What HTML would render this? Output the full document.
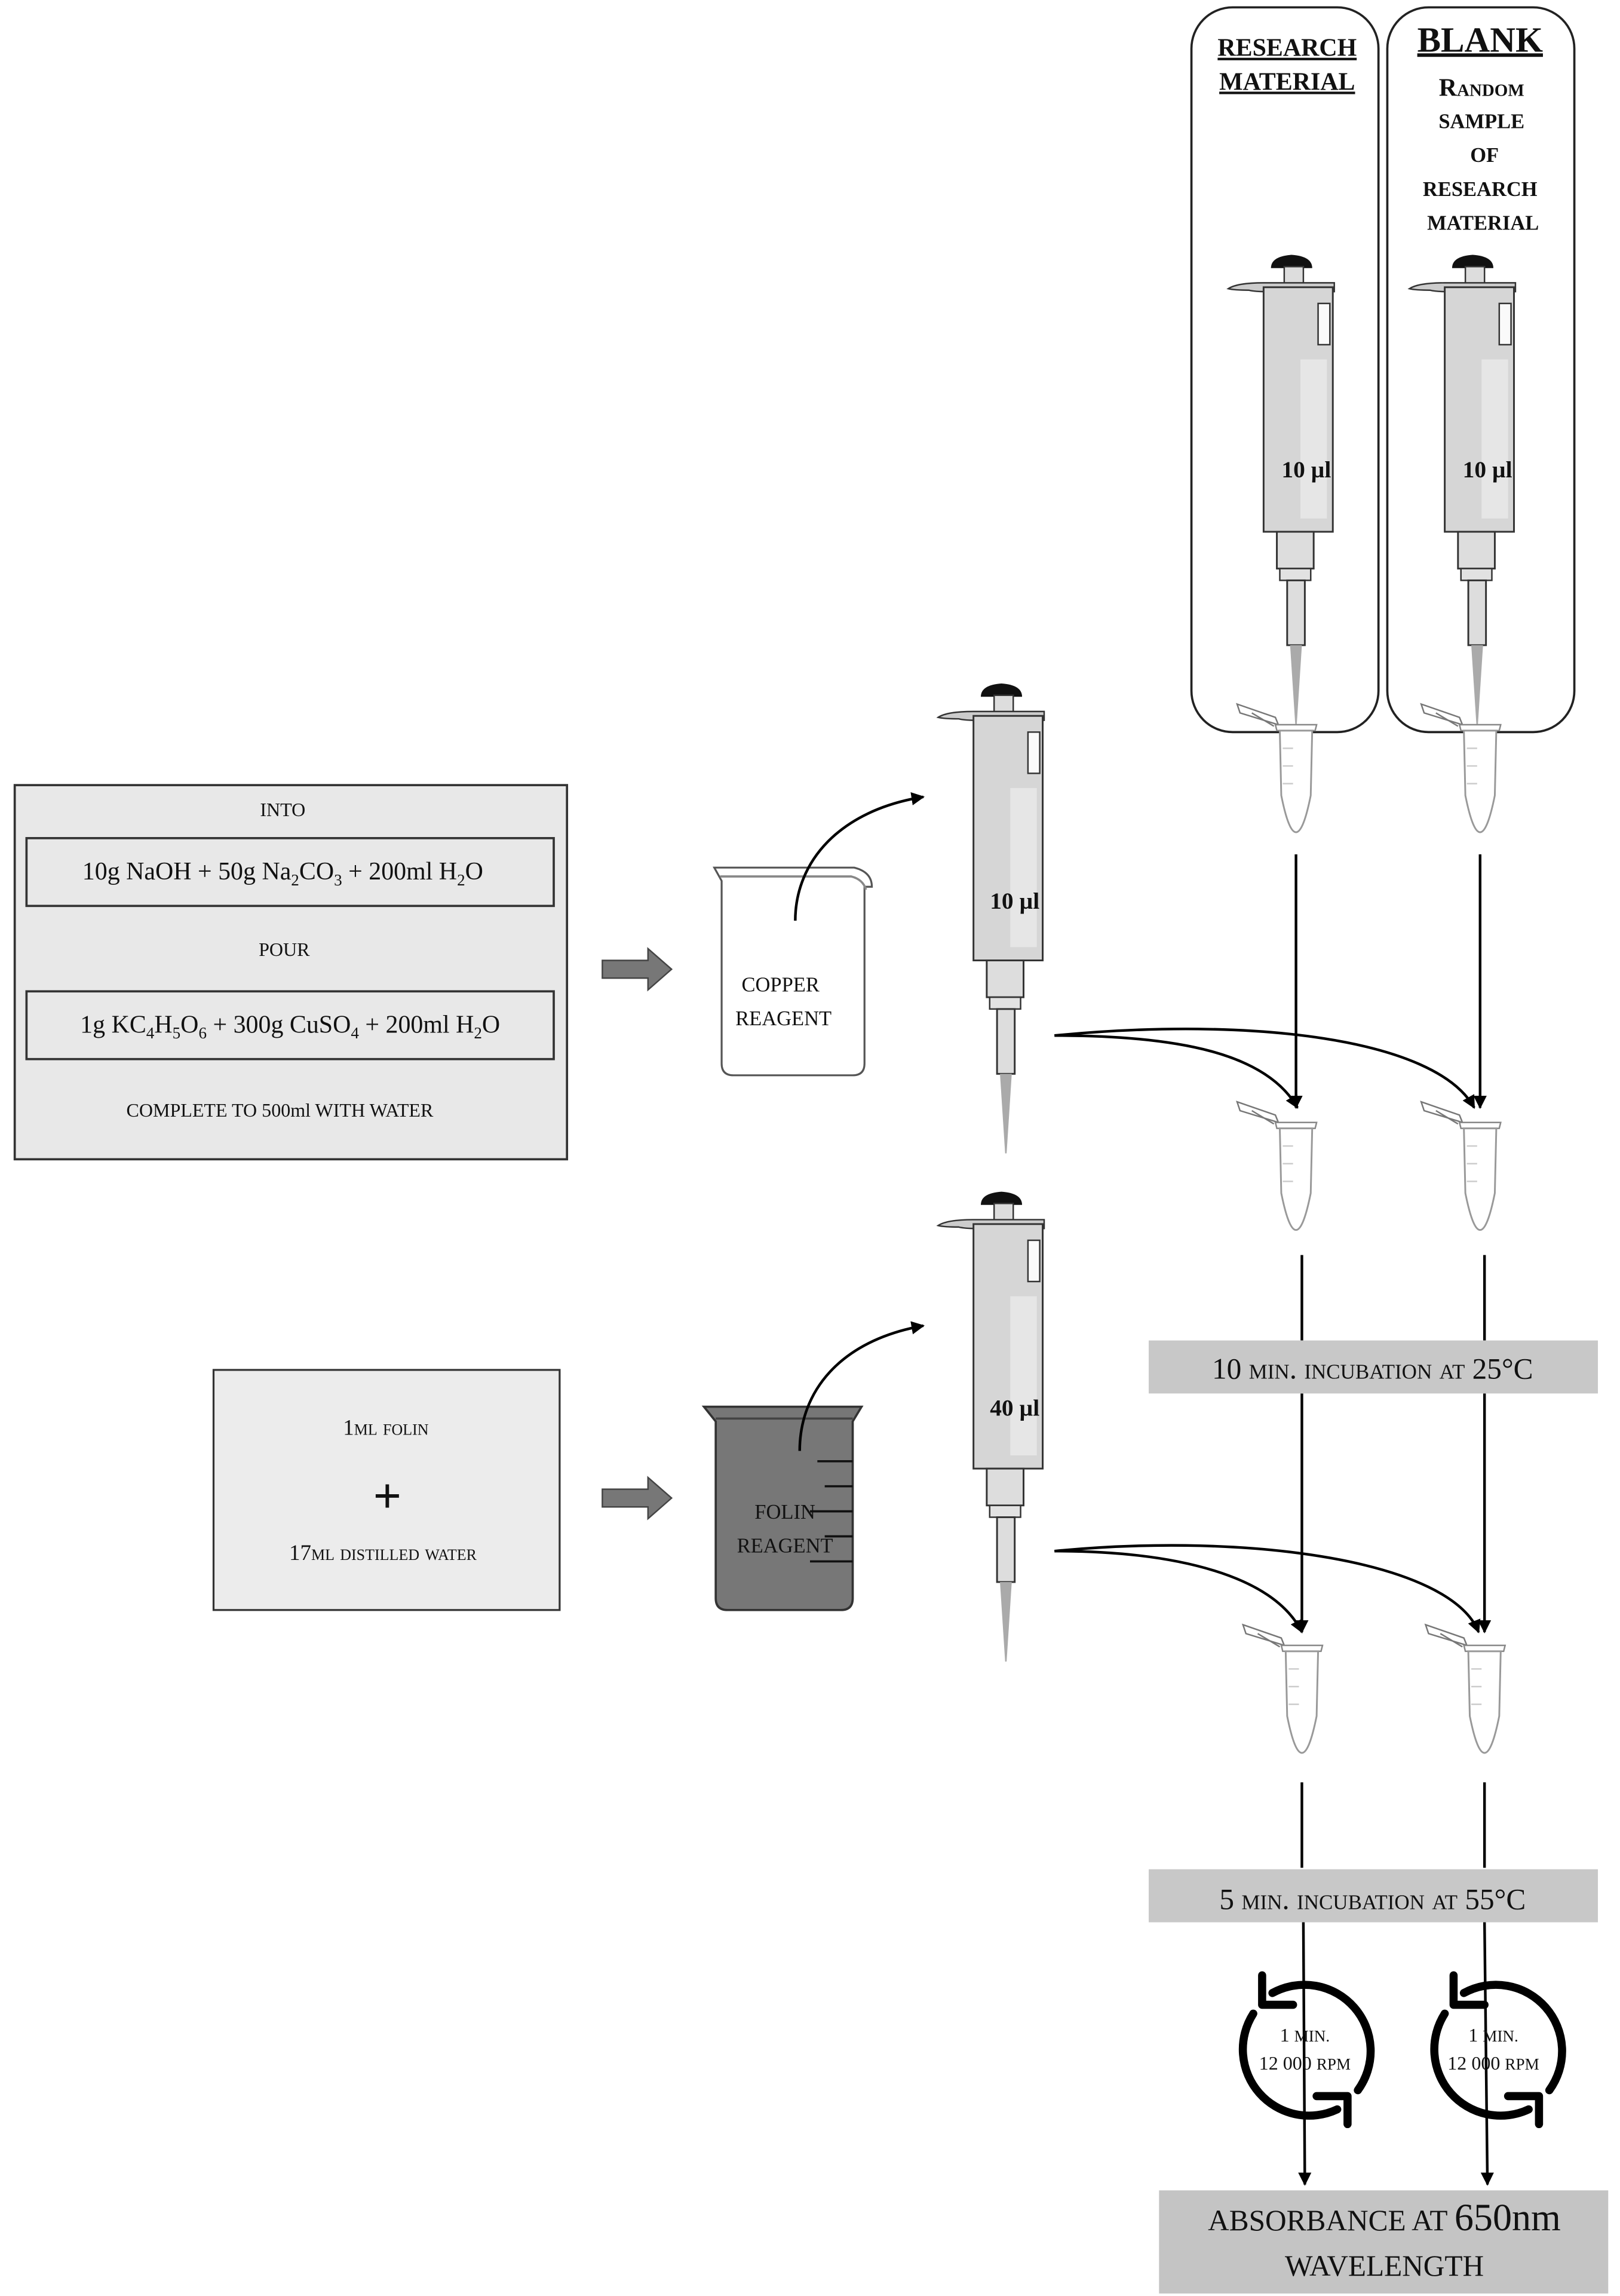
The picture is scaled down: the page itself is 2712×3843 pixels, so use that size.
<!DOCTYPE html>
<html><head><meta charset="utf-8"><style>
html,body{margin:0;padding:0;background:#fff}
svg{display:block}
text{font-family:"Liberation Serif",serif;fill:#111}
.sc{font-variant:small-caps}
</style></head><body>
<svg width="2712" height="3843" viewBox="0 0 1100 1558.7" preserveAspectRatio="none" xmlns="http://www.w3.org/2000/svg">
<defs>
<marker id="ah" viewBox="0 0 10 10" refX="9" refY="5" markerWidth="5" markerHeight="5" orient="auto"><path d="M0,0 L10,5 L0,10 Z" fill="#000"/></marker>
<g id="pip">
  <path d="M-17,10 Q-17,2 -3,1 Q11,2 11,10 Z" fill="#111"/>
  <rect x="-8" y="9" width="13" height="12" fill="#ddd" stroke="#333" stroke-width="1"/>
  <path d="M-46,24 Q-40,20 -22,20 L26,20 L26,26 L-20,26 Q-28,26 -32,25 Q-42,25 -46,24 Z" fill="#ccc" stroke="#333" stroke-width="1"/>
  <rect x="-22" y="23" width="47" height="166" fill="#d6d6d6" stroke="#333" stroke-width="1.2"/>
  <rect x="15" y="34" width="8" height="28" fill="#fafafa" stroke="#333" stroke-width="1"/>
  <rect x="3" y="72" width="18" height="108" fill="#e6e6e6"/>
  <rect x="-13" y="189" width="25" height="25" fill="#ddd" stroke="#333" stroke-width="1.2"/>
  <rect x="-11" y="214" width="21" height="8" fill="#e2e2e2" stroke="#333" stroke-width="1"/>
  <rect x="-6" y="222" width="12" height="44" fill="#ddd" stroke="#333" stroke-width="1.2"/>
  <path d="M-4,266 L4,266 L0.5,320 L-0.5,320 Z" fill="#aaa"/>
</g>
<g id="tube">
  <path d="M-40,-12 L-14,-3 L-12,2 L-38,-6 Z" fill="#fff" stroke="#777" stroke-width="1"/>
  <path d="M-30,-6 L-15,3" stroke="#777" fill="none"/>
  <path d="M-14,2 L14,2 L13,6 L-13,6 Z" fill="#fff" stroke="#888" stroke-width="1"/>
  <path d="M-11,6 L11,6 L10,50 Q0,100 -10,50 Z" fill="#fff" stroke="#999" stroke-width="1.2"/>
  <path d="M-9,18 L-2,18 M-9,30 L-2,30 M-9,42 L-2,42" stroke="#ccc"/>
</g>
<g id="spin" fill="none" stroke="#000" stroke-width="5.5" stroke-linecap="round" stroke-linejoin="round">
  <path d="M36,27 A45 45 0 0 0 -22,-39"/>
  <polyline points="-8,-31 -29,-31 -29,-51"/>
  <path d="M-35,-25 A45 45 0 0 0 22,40"/>
  <polyline points="8,31 29,31 29,50"/>
</g>
</defs>

<!-- top rounded boxes -->
<rect x="809" y="5" width="127" height="492" rx="28" fill="none" stroke="#222" stroke-width="1.5"/>
<rect x="942" y="5" width="127" height="492" rx="28" fill="none" stroke="#222" stroke-width="1.5"/>
<text x="874" y="38" font-size="17" font-weight="bold" text-anchor="middle" text-decoration="underline">RESEARCH</text>
<text x="874" y="61" font-size="17" font-weight="bold" text-anchor="middle" text-decoration="underline">MATERIAL</text>
<text x="1005" y="35" font-size="24" font-weight="bold" text-anchor="middle" text-decoration="underline">BLANK</text>
<text class="sc" x="1006" y="65" font-size="17" font-weight="bold" text-anchor="middle">Random</text>
<text x="1006" y="87" font-size="14" font-weight="bold" text-anchor="middle">SAMPLE</text>
<text x="1008" y="110" font-size="14" font-weight="bold" text-anchor="middle">OF</text>
<text x="1005" y="133" font-size="14" font-weight="bold" text-anchor="middle">RESEARCH</text>
<text x="1007" y="156" font-size="14" font-weight="bold" text-anchor="middle">MATERIAL</text>

<use href="#pip" transform="translate(880,172)"/>
<use href="#pip" transform="translate(1003,172)"/>
<text x="887" y="324" font-size="16" font-weight="bold" text-anchor="middle">10 µl</text>
<text x="1010" y="324" font-size="16" font-weight="bold" text-anchor="middle">10 µl</text>

<use href="#tube" transform="translate(880,490)"/>
<use href="#tube" transform="translate(1005,490)"/>

<!-- left box 1 -->
<rect x="10" y="533" width="375" height="254" fill="#e8e8e8" stroke="#333" stroke-width="1.5"/>
<rect x="18" y="569" width="358" height="46" fill="#e8e8e8" stroke="#333" stroke-width="1.5"/>
<rect x="18" y="673" width="358" height="46" fill="#e8e8e8" stroke="#333" stroke-width="1.5"/>
<text x="192" y="554" font-size="13" text-anchor="middle">INTO</text>
<text x="192" y="597" font-size="17" text-anchor="middle">10g NaOH + 50g Na<tspan font-size="11" dy="4">2</tspan><tspan dy="-4">CO</tspan><tspan font-size="11" dy="4">3</tspan><tspan dy="-4"> + 200ml H</tspan><tspan font-size="11" dy="4">2</tspan><tspan dy="-4">O</tspan></text>
<text x="193" y="649" font-size="13" text-anchor="middle">POUR</text>
<text x="197" y="701" font-size="17" text-anchor="middle">1g KC<tspan font-size="11" dy="4">4</tspan><tspan dy="-4">H</tspan><tspan font-size="11" dy="4">5</tspan><tspan dy="-4">O</tspan><tspan font-size="11" dy="4">6</tspan><tspan dy="-4"> + 300g CuSO</tspan><tspan font-size="11" dy="4">4</tspan><tspan dy="-4"> + 200ml H</tspan><tspan font-size="11" dy="4">2</tspan><tspan dy="-4">O</tspan></text>
<text x="190" y="758" font-size="13" text-anchor="middle">COMPLETE TO 500ml WITH WATER</text>

<!-- block arrows -->
<path d="M409,652 L440,652 L440,644 L456,658 L440,672 L440,664 L409,664 Z" fill="#777" stroke="#444" stroke-width="1"/>
<path d="M409,1011 L440,1011 L440,1003 L456,1017 L440,1031 L440,1023 L409,1023 Z" fill="#777" stroke="#444" stroke-width="1"/>

<!-- copper beaker -->
<path d="M485,589 L580,589 Q592,592 592,602 L587,602 L587,722 Q587,730 579,730 L498,730 Q490,730 490,722 L490,598 Z" fill="#fff" stroke="#555" stroke-width="1.3"/>
<path d="M489,595 L578,595 Q586,597 588,604" fill="none" stroke="#888" stroke-width="1.5"/>
<text x="530" y="673" font-size="14" text-anchor="middle">COPPER</text>
<text x="532" y="696" font-size="14" text-anchor="middle">REAGENT</text>
<path d="M540,625 C540,585 570,550 627,541" fill="none" stroke="#000" stroke-width="1.8" marker-end="url(#ah)"/>

<!-- pipette 1 -->
<use href="#pip" transform="translate(683,463)"/>
<text x="689" y="617" font-size="16" font-weight="bold" text-anchor="middle">10 µl</text>

<!-- folin box -->
<rect x="145" y="930" width="235" height="163" fill="#ececec" stroke="#333" stroke-width="1.3"/>
<text x="262" y="974" font-size="15" text-anchor="middle" class="sc">1ml folin</text>
<text x="263" y="1027" font-size="34" font-weight="bold" text-anchor="middle">+</text>
<text x="260" y="1059" font-size="15" text-anchor="middle" class="sc">17ml distilled water</text>

<!-- folin beaker -->
<path d="M478,955 L585,955 L579,965 L579,1085 Q579,1093 571,1093 L494,1093 Q486,1093 486,1085 L486,965 Z" fill="#777" stroke="#333" stroke-width="1.5"/>
<path d="M486,963 L579,963" stroke="#444" stroke-width="1.5"/>
<path d="M555,992 L579,992 M560,1009 L579,1009 M550,1026 L579,1026 M560,1043 L579,1043 M550,1060 L579,1060" stroke="#111" stroke-width="1.5"/>
<text x="533" y="1031" font-size="14" text-anchor="middle">FOLIN</text>
<text x="533" y="1054" font-size="14" text-anchor="middle">REAGENT</text>
<path d="M543,985 C543,945 570,910 627,900" fill="none" stroke="#000" stroke-width="1.8" marker-end="url(#ah)"/>

<!-- pipette 2 -->
<use href="#pip" transform="translate(683,808)"/>
<text x="689" y="961" font-size="16" font-weight="bold" text-anchor="middle">40 µl</text>

<!-- connectors row 1 -->
<g fill="none" stroke="#000" stroke-width="1.8">
<path d="M880,580 L880,752" marker-end="url(#ah)"/>
<path d="M1005,580 L1005,752" marker-end="url(#ah)"/>
<path d="M716,703 C800,703 860,715 881,752" marker-end="url(#ah)"/>
<path d="M716,703 C850,690 975,705 1001,752" marker-end="url(#ah)"/>
</g>
<use href="#tube" transform="translate(880,760)"/>
<use href="#tube" transform="translate(1005,760)"/>

<g fill="none" stroke="#000" stroke-width="1.8">
<path d="M884,852 L884,910"/>
<path d="M1008,852 L1008,910"/>
<path d="M884,946 L884,1108" marker-end="url(#ah)"/>
<path d="M1008,946 L1008,1108" marker-end="url(#ah)"/>
<path d="M716,1053 C800,1053 865,1070 884,1108" marker-end="url(#ah)"/>
<path d="M716,1053 C850,1040 985,1060 1004,1108" marker-end="url(#ah)"/>
</g>
<rect x="780" y="910" width="305" height="36" fill="#c8c8c8"/>
<text class="sc" x="932" y="936" font-size="20" text-anchor="middle">10 min. incubation at 25°C</text>

<use href="#tube" transform="translate(884,1115)"/>
<use href="#tube" transform="translate(1008,1115)"/>

<g fill="none" stroke="#000" stroke-width="1.8">
<path d="M884,1210 L884,1268"/>
<path d="M1008,1210 L1008,1268"/>
<path d="M885,1305 L886,1483" marker-end="url(#ah)"/>
<path d="M1008,1305 L1010,1483" marker-end="url(#ah)"/>
</g>
<rect x="780" y="1269" width="305" height="36" fill="#c8c8c8"/>
<text class="sc" x="932" y="1296" font-size="20" text-anchor="middle">5 min. incubation at 55°C</text>

<use href="#spin" transform="translate(886,1392)"/>
<use href="#spin" transform="translate(1016,1392)"/>
<text x="886" y="1386" font-size="13" text-anchor="middle">1 <tspan font-size="11">MIN.</tspan></text>
<text x="886" y="1405" font-size="13" text-anchor="middle">12 000 <tspan font-size="11">RPM</tspan></text>
<text x="1014" y="1386" font-size="13" text-anchor="middle">1 <tspan font-size="11">MIN.</tspan></text>
<text x="1014" y="1405" font-size="13" text-anchor="middle">12 000 <tspan font-size="11">RPM</tspan></text>

<rect x="787" y="1487" width="305" height="70" fill="#c4c4c4"/>
<text x="940" y="1514" font-size="20" text-anchor="middle">ABSORBANCE  AT <tspan font-size="26">650nm</tspan></text>
<text x="940" y="1545" font-size="20" text-anchor="middle">WAVELENGTH</text>
</svg>
</body></html>
